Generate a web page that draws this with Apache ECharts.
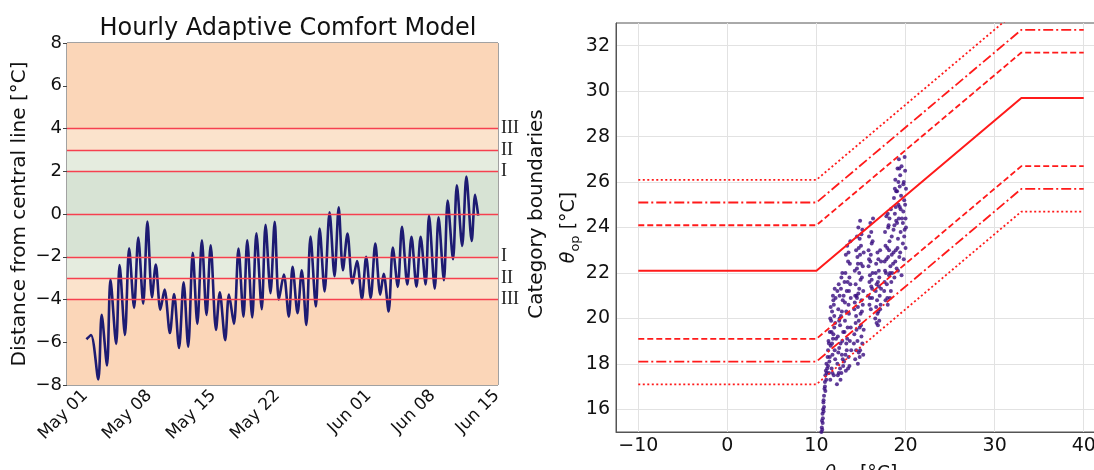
<!DOCTYPE html>
<html><head><meta charset="utf-8">
<script src="https://cdn.jsdelivr.net/npm/echarts@6/dist/echarts.min.js"></script>
<style>html,body{margin:0;padding:0;background:#fff}#c{width:1094px;height:470px}</style>
</head><body><div id="c"></div>
<script>
// ---------- Left panel: hourly distance from the central comfort line ----------
const timeStamps = [
 '2020-05-01 03:00','2020-05-01 15:00','2020-05-02 10:00','2020-05-02 19:00','2020-05-03 09:00','2020-05-03 18:00',
 '2020-05-04 09:00','2020-05-04 18:00','2020-05-05 08:00','2020-05-05 19:00','2020-05-06 08:00','2020-05-06 19:00',
 '2020-05-07 08:00','2020-05-07 19:00','2020-05-08 07:00','2020-05-08 17:00','2020-05-09 05:00','2020-05-09 16:00',
 '2020-05-10 06:00','2020-05-10 17:00','2020-05-11 06:00','2020-05-11 18:00','2020-05-12 06:00','2020-05-12 18:00',
 '2020-05-13 06:00','2020-05-13 18:00','2020-05-14 06:00','2020-05-14 17:00','2020-05-15 07:00','2020-05-15 17:00',
 '2020-05-16 07:00','2020-05-16 17:00','2020-05-17 06:00','2020-05-17 18:00','2020-05-18 07:00','2020-05-18 17:00',
 '2020-05-19 06:00','2020-05-19 17:00','2020-05-20 07:00','2020-05-20 17:00','2020-05-21 06:00','2020-05-21 17:00',
 '2020-05-22 04:00','2020-05-22 17:00','2020-05-23 06:00','2020-05-23 16:00','2020-05-24 05:00','2020-05-24 16:00',
 '2020-05-25 04:00','2020-05-25 15:00','2020-05-26 05:00','2020-05-26 15:00','2020-05-27 04:00','2020-05-27 17:00',
 '2020-05-28 06:00','2020-05-28 17:00','2020-05-29 04:00','2020-05-29 16:00','2020-05-30 05:00','2020-05-30 17:00',
 '2020-05-31 06:00','2020-05-31 17:00','2020-06-01 05:00','2020-06-01 17:00','2020-06-02 06:00','2020-06-02 15:00',
 '2020-06-03 04:00','2020-06-03 15:00','2020-06-04 04:00','2020-06-04 15:00','2020-06-05 05:00','2020-06-05 16:00',
 '2020-06-06 05:00','2020-06-06 16:00','2020-06-07 05:00','2020-06-07 14:00','2020-06-08 05:00','2020-06-08 15:00',
 '2020-06-09 05:00','2020-06-09 15:00','2020-06-10 05:00','2020-06-10 15:00','2020-06-11 05:00','2020-06-11 16:00',
 '2020-06-12 06:00','2020-06-12 15:00','2020-06-12 23:00'
];
const distances = [
 -5.86,-5.66,-7.74,-4.72,-7.08,-3.07,-6.08,-2.39,-5.66,-1.6,
 -4.39,-1.1,-4.2,-0.35,-3.9,-2.36,-4.48,-3.54,-5.57,-3.74,
 -6.27,-3.19,-6.21,-1.81,-5.14,-1.23,-4.72,-1.46,-5.42,-3.66,
 -5.9,-3.77,-5.14,-1.62,-4.8,-1.23,-4.84,-0.9,-4.45,-0.5,
 -3.7,-0.37,-4.0,-2.83,-4.8,-2.47,-4.64,-2.63,-5.19,-1.05,
 -4.33,-0.68,-3.62,0.08,-2.91,0.31,-2.63,-0.91,-3.25,-2.2,
 -3.98,-2.0,-3.93,-1.38,-3.77,-2.8,-4.56,-1.57,-3.41,-0.6,
 -3.3,-1.07,-3.4,-1.07,-3.3,-0.08,-3.49,-0.16,-3.1,0.63,
 -2.12,1.34,-1.49,1.75,-1.26,0.9,-0.08
];
const axisStart = '2020-04-29 00:00';
const axisEnd = '2020-06-15 03:00';
const dateTicks = ['2020-05-01 00:00','2020-05-08 00:00','2020-05-15 00:00','2020-05-22 00:00','2020-06-01 00:00','2020-06-08 00:00','2020-06-15 00:00'];
const dateTickLabels = ['May 01','May 08','May 15','May 22','Jun 01','Jun 08','Jun 15'];
const boundaryLevels = [4, 3, 2, 0, -2, -3, -4];
const boundaryTickValues = [4, 3, 2, -2, -3, -4];
const boundaryTickLabels = ['III', 'II', 'I', 'I', 'II', 'III'];
const bandEdges = [8, 4, 3, 2, -2, -3, -4, -8];

// ---------- Right panel: adaptive comfort limits vs running mean temperature ----------
const rmBreaks   = [-10, 10, 33, 40];
const centralLine = [22.1, 22.1, 29.7, 29.7];
const upperCatI   = [24.1, 24.1, 31.7, 31.7];
const upperCatII  = [25.1, 25.1, 32.7, 32.7];
const upperCatIII = [26.1, 26.1, 33.7, 33.7];
const lowerCatI   = [19.1, 19.1, 26.7, 26.7];
const lowerCatII  = [18.1, 18.1, 25.7, 25.7];
const lowerCatIII = [17.1, 17.1, 24.7, 24.7];
const rmTicks = [-10, 0, 10, 20, 30, 40];
const opTicks = [16, 18, 20, 22, 24, 26, 28, 30, 32];
const observations = [
 [10.55,15.0],[10.6,15.2],[10.62,15.5],[10.7,15.4],[10.68,15.8],[10.75,16.0],[10.78,16.3],[10.85,16.1],[10.85,16.6],[10.9,16.9],
 [10.95,17.2],[11.0,16.8],[11.0,17.5],[11.05,17.7],[11.1,17.3],[11.12,18.0],[11.2,17.8],[11.25,18.3],[10.72,15.6],[10.8,15.9],
 [10.65,15.1],[10.8,16.4],[10.95,17.0],[11.15,17.6],[11.3,17.9],
 [11.3,18.6],[11.35,19.0],[11.4,17.6],[11.45,18.1],[11.5,19.4],[11.55,17.3],[11.6,18.8],[11.65,19.9],[11.7,17.8],[11.75,20.3],
 [11.8,18.4],[11.85,19.1],[11.9,20.8],[11.95,17.5],[12.0,19.6],[12.05,21.3],[12.1,18.2],[11.6,20.5],[11.75,18.9],[11.9,19.3],
 [12.0,20.1],[11.5,18.3],[11.85,21.0],[12.1,19.8],
 [11.4,18.9],[11.55,20.0],[11.7,19.4],[11.8,17.6],[11.95,20.6],[12.05,18.6],[12.15,20.9],[12.2,19.1],
 [12.3,17.1],[12.35,18.0],[12.4,19.2],[12.45,20.4],[12.5,17.6],[12.55,18.7],[12.6,21.0],[12.65,19.7],[12.7,17.3],[12.75,20.1],
 [12.8,21.8],[12.85,18.4],[12.9,19.0],[12.95,20.8],[13.0,17.9],[12.5,21.5],[12.7,18.9],[12.9,22.0],[12.4,17.5],[12.6,20.0],
 [12.35,21.2],[12.45,18.5],[12.55,19.9],[12.65,17.8],[12.75,21.3],[12.85,20.3],[12.95,18.2],[13.05,21.0],[13.0,19.4],[12.8,17.6],
 [13.1,18.1],[13.15,19.4],[13.2,20.7],[13.25,22.0],[13.3,17.7],[13.35,18.9],[13.4,21.2],[13.45,23.2],[13.5,19.6],[13.55,22.5],
 [13.6,18.3],[13.65,20.2],[13.7,21.8],[13.75,19.0],[13.8,23.4],[13.85,20.9],[13.9,18.6],[13.3,22.8],[13.5,21.6],[13.7,17.9],
 [13.2,19.9],[13.6,22.9],
 [13.15,21.6],[13.25,18.4],[13.35,20.3],[13.45,19.1],[13.55,17.8],[13.65,21.2],[13.75,22.4],[13.85,19.6],[13.4,18.6],[13.6,20.6],[13.8,21.5],
 [14.2,18.9],[14.25,20.4],[14.3,22.1],[14.35,18.2],[14.4,21.5],[14.45,23.0],[14.5,19.5],[14.55,20.9],[14.6,22.7],[14.65,18.0],
 [14.7,24.0],[14.75,19.9],[14.8,21.3],[14.85,23.5],[14.9,18.6],[14.95,20.2],[15.0,22.4],[15.05,19.2],[15.1,21.8],[15.15,23.9],
 [15.2,20.6],[15.25,18.4],[15.3,22.9],[14.5,21.0],[14.6,19.0],[14.8,22.0],[14.9,24.3],[15.0,19.7],[15.1,20.3],[14.4,19.8],
 [14.7,21.1],[15.2,22.3],[14.3,20.7],[15.0,23.2],[14.85,18.3],[14.55,23.6],
 [14.25,19.3],[14.35,21.0],[14.45,18.6],[14.55,22.2],[14.65,20.5],[14.75,23.1],[14.85,19.6],[14.95,21.7],[15.05,23.7],[15.15,18.9],
 [15.25,21.2],[14.65,22.4],[14.45,20.1],[15.05,20.8],[14.75,18.5],[15.3,19.5],[14.9,22.8],
 [15.8,21.0],[15.85,22.3],[15.9,23.6],[15.95,20.6],[16.0,21.9],[16.05,24.2],[16.1,22.8],[16.15,21.4],[16.2,23.3],[16.25,20.9],
 [16.3,22.0],[16.35,24.4],[15.9,22.6],[16.1,20.4],[16.2,21.7],
 [15.85,23.0],[16.0,20.9],[16.05,22.5],[16.15,23.8],[16.25,21.3],[16.3,23.4],[15.95,21.6],
 [16.6,20.0],[16.65,21.2],[16.7,22.4],[16.75,19.8],[16.8,20.8],[16.85,22.9],[16.9,21.6],[16.95,20.3],[17.0,22.1],[17.05,19.9],
 [17.1,21.0],[17.15,23.0],[17.2,20.6],[17.25,22.5],[16.9,19.7],[17.0,21.4],
 [16.65,22.0],[16.75,21.5],[16.85,20.2],[16.95,22.6],[17.05,21.8],[17.15,20.4],[17.25,21.3],[16.7,20.5],
 [17.6,21.2],[17.65,22.5],[17.7,23.8],[17.75,20.8],[17.8,22.0],[17.85,24.5],[17.9,21.5],[17.95,23.1],[18.0,20.6],[18.05,22.7],
 [18.1,24.1],[18.15,21.9],[18.2,23.4],[18.25,20.9],[18.3,22.3],[18.35,24.8],[18.4,21.6],[18.45,23.6],[18.5,22.0],[18.0,24.6],
 [17.65,21.6],[17.75,23.2],[17.85,22.6],[17.95,20.9],[18.05,24.0],[18.15,23.0],[18.25,22.0],[18.35,21.2],[18.45,22.8],[17.7,22.1],[18.2,24.4],
 [18.6,22.4],[18.65,23.9],[18.7,25.3],[18.75,21.8],[18.8,24.6],[18.85,26.1],[18.9,23.0],[18.95,25.6],[19.0,22.2],[19.05,24.2],
 [19.1,26.6],[19.15,23.5],[19.2,25.0],[19.25,27.0],[19.3,22.7],[19.35,24.9],[19.4,26.3],[19.45,23.8],[19.5,25.4],[19.55,21.9],
 [19.6,24.4],[19.2,26.0],[18.9,24.9],[19.4,22.9],
 [18.65,22.9],[18.75,24.1],[18.85,22.5],[18.95,24.3],[19.05,25.6],[19.15,22.1],[19.25,24.4],[19.35,25.8],[19.45,24.8],[19.55,26.7],
 [18.8,25.7],[19.1,23.1],[19.3,26.6],
 [19.7,23.3],[19.75,24.7],[19.8,26.0],[19.85,25.2],[19.9,23.9],[19.95,26.5],[20.0,24.4],[20.05,25.7],[19.8,22.6],[20.0,23.1],
 [19.9,27.1],[19.75,25.9],[19.85,23.6],[19.95,25.0],[20.05,24.0],[19.7,24.2]
];

// ---------- build ----------
const FONT = 'DejaVu Sans';
const toMs = s => new Date(s.replace(' ', 'T')).getTime();
const minus = v => String(v).replace('-', '\u2212');
const dateTickMs = dateTicks.map(toMs);
const bandColors = ['#fbd6b8', '#fbe3cc', '#e5ecdf', '#d7e3d4', '#e5ecdf', '#fbe3cc', '#fbd6b8'];
const bandAreas = bandColors.map((c, i) => [
  { yAxis: bandEdges[i + 1], itemStyle: { color: c } },
  { yAxis: bandEdges[i] }
]);
const seriesLine = (ys, type, width) => ({
  type: 'line', xAxisIndex: 1, yAxisIndex: 2, z: 3, showSymbol: false, silent: true,
  data: rmBreaks.map((x, i) => [x, ys[i]]),
  lineStyle: { color: '#ff1a1a', width: width, type: type }
});
const subRich = {
  t: { fontStyle: 'italic', fontFamily: FONT, fontSize: 19, color: '#111', lineHeight: 26 },
  s: { fontFamily: FONT, fontSize: 13, color: '#111', verticalAlign: 'bottom', lineHeight: 14 }
};

const chart = echarts.init(document.getElementById('c'));
chart.setOption({
  animation: false,
  title: {
    text: 'Hourly Adaptive Comfort Model', left: 283, top: 12, textAlign: 'center',
    textStyle: { fontFamily: FONT, fontSize: 24, fontWeight: 'normal', color: '#111' }
  },
  grid: [
    { left: 67, top: 43, width: 431, height: 342, outerBoundsMode: 'none', containLabel: false,
      show: true, borderColor: '#444', borderWidth: 1, backgroundColor: '#fbd6b8' },
    { left: 616, top: 23, width: 490, height: 409, outerBoundsMode: 'none', containLabel: false,
      show: true, borderColor: '#555', borderWidth: 1, backgroundColor: '#fff' }
  ],
  xAxis: [
    {
      type: 'value', gridIndex: 0, min: toMs(axisStart), max: toMs(axisEnd),
      axisLine: { show: false }, splitLine: { show: false },
      axisTick: { show: true, customValues: dateTickMs, length: 4, lineStyle: { color: '#444' } },
      axisLabel: {
        customValues: dateTickMs, rotate: 45, margin: 8,
        formatter: v => { const i = dateTickMs.indexOf(v); return i >= 0 ? dateTickLabels[i] : ''; },
        fontFamily: FONT, fontSize: 17, color: '#111'
      }
    },
    {
      type: 'value', gridIndex: 1, min: -12.5, max: 42.5,
      axisLine: { show: true, onZero: false, lineStyle: { color: '#555' } },
      axisTick: { show: false, customValues: rmTicks },
      axisLabel: { customValues: rmTicks, formatter: minus, fontFamily: FONT, fontSize: 19, color: '#111', margin: 5 },
      splitLine: { show: true, lineStyle: { color: '#e2e2e2', width: 1 } },
      name: '{t|θ}{s|rm} [°C]', nameLocation: 'middle', nameGap: 20,
      nameTextStyle: { fontFamily: FONT, fontSize: 19, color: '#111', lineHeight: 26, rich: subRich }
    }
  ],
  yAxis: [
    {
      type: 'value', gridIndex: 0, min: -8, max: 8, interval: 2,
      axisLine: { show: false }, splitLine: { show: false },
      axisTick: { show: true, length: 4, lineStyle: { color: '#444' } },
      axisLabel: { formatter: minus, fontFamily: FONT, fontSize: 18, color: '#111', margin: 5 },
      name: 'Distance from central line [°C]', nameLocation: 'middle', nameGap: 37,
      nameTextStyle: { fontFamily: FONT, fontSize: 20, color: '#111' }
    },
    {
      type: 'value', gridIndex: 0, position: 'right', min: -8, max: 8,
      axisLine: { show: false }, splitLine: { show: false },
      axisTick: { show: false, customValues: boundaryTickValues },
      axisLabel: {
        customValues: boundaryTickValues, margin: 3,
        formatter: v => boundaryTickLabels[boundaryTickValues.indexOf(v)] || '',
        fontFamily: 'Liberation Serif', fontSize: 18, color: '#222'
      },
      name: 'Category boundaries', nameLocation: 'middle', nameRotate: 90, nameGap: 29,
      nameTextStyle: { fontFamily: FONT, fontSize: 20, color: '#111' }
    },
    {
      type: 'value', gridIndex: 1, min: 15, max: 33,
      axisLine: { show: true, onZero: false, lineStyle: { color: '#555' } },
      axisTick: { show: false, customValues: opTicks },
      axisLabel: { customValues: opTicks, fontFamily: FONT, fontSize: 19, color: '#111', margin: 6 },
      splitLine: { show: true, lineStyle: { color: '#e2e2e2', width: 1 } },
      name: '{t|θ}{s|op} [°C]', nameLocation: 'middle', nameGap: 28,
      nameTextStyle: { fontFamily: FONT, fontSize: 19, color: '#111', lineHeight: 26, rich: subRich }
    }
  ],
  series: [
    {
      type: 'line', xAxisIndex: 0, yAxisIndex: 0, z: 3, silent: true,
      data: timeStamps.map((t, i) => [toMs(t), distances[i]]),
      smooth: 0.3, showSymbol: false,
      lineStyle: { color: '#1d1b72', width: 2.6 },
      markArea: { silent: true, data: bandAreas },
      markLine: {
        silent: true, symbol: 'none', label: { show: false },
        lineStyle: { color: '#f6404f', width: 1.4, type: 'solid' },
        data: boundaryLevels.map(v => ({ yAxis: v }))
      }
    },
    {
      type: 'scatter', xAxisIndex: 1, yAxisIndex: 2, z: 2, silent: true,
      data: observations, symbolSize: 4,
      itemStyle: { color: '#380c80' }
    },
    seriesLine(centralLine, 'solid', 2),
    seriesLine(upperCatI, [6, 3], 1.8),
    seriesLine(lowerCatI, [6, 3], 1.8),
    seriesLine(upperCatII, [10, 3, 2, 3], 1.8),
    seriesLine(lowerCatII, [10, 3, 2, 3], 1.8),
    seriesLine(upperCatIII, [2, 2.5], 1.8),
    seriesLine(lowerCatIII, [2, 2.5], 1.8)
  ]
});
</script>
</body></html>
